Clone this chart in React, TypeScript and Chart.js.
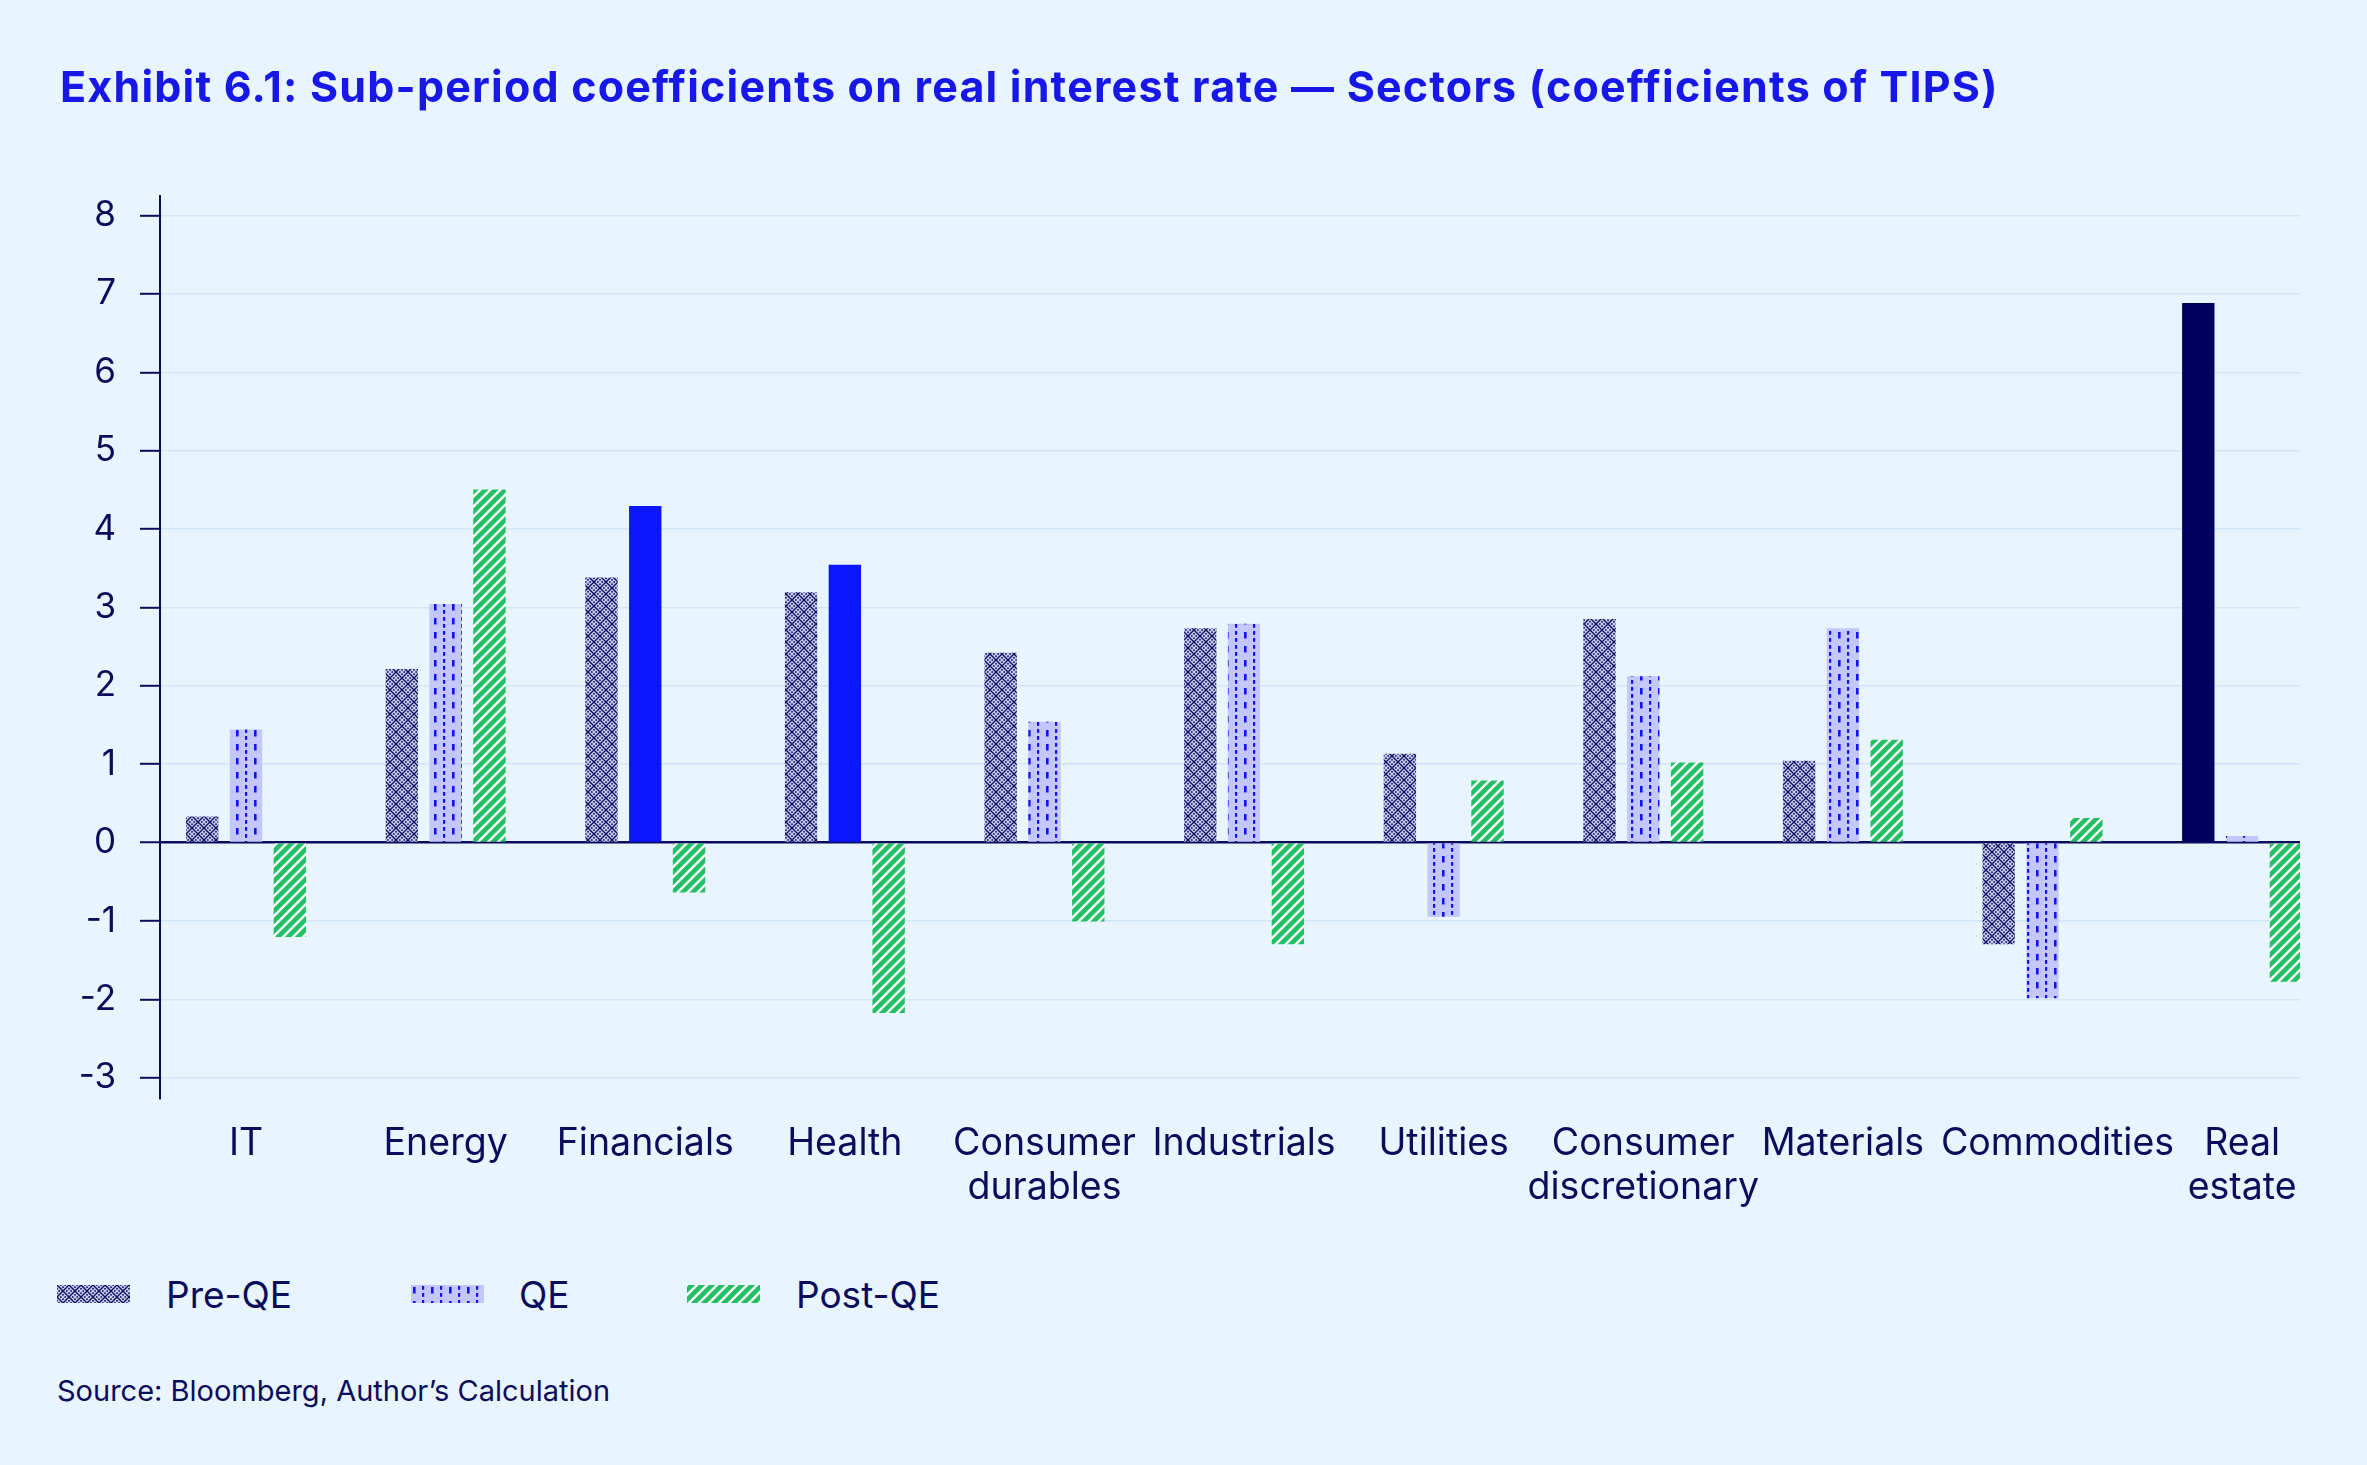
import React, { useEffect, useRef } from 'react';
import { Chart, registerables } from 'chart.js';

Chart.register(...registerables);

// ---------- data ----------
const categories: string[][] = [
  ['IT'], ['Energy'], ['Financials'], ['Health'], ['Consumer', 'durables'], ['Industrials'],
  ['Utilities'], ['Consumer', 'discretionary'], ['Materials'], ['Commodities'], ['Real', 'estate'],
];
const seriesNames = ['Pre-QE', 'QE', 'Post-QE'];
const preQE = [0.33, 2.21, 3.38, 3.19, 2.42, 2.73, 1.13, 2.85, 1.04, -1.29, 6.88];
const qe = [1.44, 3.04, 4.29, 3.54, 1.54, 2.79, -0.94, 2.12, 2.73, -1.98, 0.08];
const postQE = [-1.2, 4.5, -0.63, -2.17, -1.0, -1.29, 0.79, 1.02, 1.31, 0.31, -1.77];
// bars drawn in solid colour (highlighted)
const solidPre = [10];
const solidQE = [2, 3];
const solidPost: number[] = [];
const yTicks = [-3, -2, -1, 0, 1, 2, 3, 4, 5, 6, 7, 8];
const titleText = 'Exhibit 6.1: Sub-period coefficients on real interest rate \u2014 Sectors (coefficients of TIPS)';
const sourceText = 'Source: Bloomberg, Author\u2019s Calculation';

// ---------- styles ----------
const BG = '#e8f4fe';
const NAVY = '#0c0c5c';
const TITLE_BLUE = '#1717e8';
const GRID = '#d2e5f8';
const SOLID_BLUE = '#0b16ff';
const SOLID_NAVY = '#00005e';
const GREEN = '#22bf64';
const FONT = 'Inter, "Noto Sans", sans-serif';

function makeTile(w: number, h: number, draw: (g: CanvasRenderingContext2D, w: number, h: number) => void) {
  const c = document.createElement('canvas');
  c.width = w;
  c.height = h;
  const g = c.getContext('2d')!;
  draw(g, w, h);
  return c;
}

function drawPre(g: CanvasRenderingContext2D, w: number, h: number) {
  g.fillStyle = '#c6cae6';
  g.fillRect(0, 0, w, h);
  g.strokeStyle = '#0f0f66';
  g.lineWidth = 1.4;
  g.beginPath();
  g.moveTo(0, 0); g.lineTo(w, h);
  g.moveTo(w, 0); g.lineTo(0, h);
  g.stroke();
  g.fillStyle = '#0f0f66';
  const centers = [[w / 2, 0], [w / 2, h], [0, h / 2], [w, h / 2]];
  for (const [cx, cy] of centers) {
    for (const [dx, dy] of [[-2.2, 0], [2.2, 0], [0, -2.2], [0, 2.2]]) {
      g.fillRect(cx + dx - 0.8, cy + dy - 0.8, 1.6, 1.6);
    }
  }
}

function drawQE(g: CanvasRenderingContext2D, w: number, h: number) {
  g.fillStyle = '#c4c7fb';
  g.fillRect(0, 0, w, h);
  g.fillStyle = '#1212f5';
  g.fillRect(2, 2, 2.6, 6.5);
  g.fillRect(11, 1, 2.2, 3.8);
  g.fillRect(11, 8, 2.2, 3.8);
}

function drawPost(g: CanvasRenderingContext2D, w: number, h: number) {
  g.fillStyle = GREEN;
  g.fillRect(0, 0, w, h);
  g.strokeStyle = '#ffffff';
  g.lineWidth = 2.4;
  g.beginPath();
  for (let k = -1; k <= 1; k++) {
    g.moveTo(k * w - 1, h + 1);
    g.lineTo(k * w + w + 1, -1);
  }
  g.stroke();
}

const xMin = -0.431;
const xMax = 10.29;
// small label nudges (in category units) to keep neighbouring labels apart
const labelNudge = (i: number) => (i === 9 ? 0.075 : 0);

export default function App() {
  const canvasRef = useRef<HTMLCanvasElement | null>(null);
  const sw1 = useRef<HTMLCanvasElement | null>(null);
  const sw2 = useRef<HTMLCanvasElement | null>(null);
  const sw3 = useRef<HTMLCanvasElement | null>(null);

  useEffect(() => {
    const canvas = canvasRef.current;
    if (!canvas) return;
    const ctx = canvas.getContext('2d')!;
    const preTile = makeTile(12, 12, drawPre);
    const qeTile = makeTile(18, 14, drawQE);
    const postTile = makeTile(10, 10, drawPost);
    const prePat = ctx.createPattern(preTile, 'repeat')!;
    const qePat = ctx.createPattern(qeTile, 'repeat')!;
    const postPat = ctx.createPattern(postTile, 'repeat')!;

    // legend swatches
    const swatches: [HTMLCanvasElement | null, HTMLCanvasElement][] = [
      [sw1.current, preTile], [sw2.current, qeTile], [sw3.current, postTile],
    ];
    for (const [c, tile] of swatches) {
      if (!c) continue;
      const g = c.getContext('2d')!;
      g.clearRect(0, 0, c.width, c.height);
      g.fillStyle = g.createPattern(tile, 'repeat')!;
      g.fillRect(0, 0, c.width, c.height);
    }

    const toPoints = (arr: number[]) => arr.map((v, i) => ({ x: i, y: v }));
    const colors = (arr: number[], solid: number[], pat: CanvasPattern, solidColor: string) =>
      arr.map((_, i) => (solid.includes(i) ? solidColor : pat));

    const chart = new Chart(canvas, {
      type: 'bar',
      data: {
        datasets: [
          { label: seriesNames[0], data: toPoints(preQE), backgroundColor: colors(preQE, solidPre, prePat, SOLID_NAVY) as any, borderWidth: 0 },
          { label: seriesNames[1], data: toPoints(qe), backgroundColor: colors(qe, solidQE, qePat, SOLID_BLUE) as any, borderWidth: 0 },
          { label: seriesNames[2], data: toPoints(postQE), backgroundColor: colors(postQE, solidPost, postPat, GREEN) as any, borderWidth: 0 },
        ],
      },
      options: {
        responsive: false,
        animation: false,
        layout: { padding: { top: 196, right: 67, left: 0, bottom: 0 } },
        datasets: { bar: { barThickness: 43.8, maxBarThickness: 31.7 } },
        plugins: {
          legend: { display: false },
          title: { display: false },
          tooltip: { enabled: false },
        },
        scales: {
          x: {
            type: 'linear',
            min: xMin,
            max: xMax,
            offset: false,
            grid: { display: false, drawTicks: false, offset: false },
            border: { display: false },
            afterBuildTicks: (s: any) => {
              s.ticks = categories.map((_, i) => ({ value: i + labelNudge(i) }));
            },
            afterFit: (s: any) => {
              s.height = 141;
            },
            ticks: {
              autoSkip: false,
              maxRotation: 0,
              minRotation: 0,
              padding: 22,
              color: NAVY,
              font: { family: FONT, size: 37.5, lineHeight: 1.19 },
              callback: (v: any) => categories[Math.round(v)] ?? '',
            },
          },
          y: {
            min: -3.27,
            max: 8.25,
            afterBuildTicks: (s: any) => {
              s.ticks = yTicks.map((v) => ({ value: v }));
            },
            afterFit: (s: any) => {
              s.width = 160;
            },
            grid: {
              color: (c: any) => (c.tick && c.tick.value === 0 ? NAVY : GRID),
              lineWidth: (c: any) => (c.tick && c.tick.value === 0 ? 2.5 : 1.6),
              tickColor: NAVY,
              tickLength: 20,
              tickWidth: 2,
            },
            border: { color: NAVY, width: 2 },
            ticks: {
              padding: 24,
              color: NAVY,
              font: { family: FONT, size: 35 },
              callback: (v: any) => String(v),
            },
          },
        },
      },
    });
    return () => chart.destroy();
  }, []);

  const legendItems = [
    { ref: sw1, name: seriesNames[0], sx: 57, tx: 166 },
    { ref: sw2, name: seriesNames[1], sx: 411, tx: 519 },
    { ref: sw3, name: seriesNames[2], sx: 687, tx: 796 },
  ];

  return (
    <div style={{ position: 'fixed', left: 0, top: 0, width: 2367, height: 1465, background: BG, overflow: 'hidden', fontFamily: FONT }}>
      <canvas ref={canvasRef} width={2367} height={1240} style={{ position: 'absolute', left: 0, top: 0, width: 2367, height: 1240 }} />
      <div style={{ position: 'absolute', left: 60, top: 64.5, fontSize: 43, letterSpacing: 1.2, lineHeight: 1, fontWeight: 700, color: TITLE_BLUE, whiteSpace: 'nowrap' }}>
        {titleText}
      </div>
      {legendItems.map((it) => (
        <React.Fragment key={it.name}>
          <canvas ref={it.ref} width={73} height={18} style={{ position: 'absolute', left: it.sx, top: 1285, width: 73, height: 18 }} />
          <div style={{ position: 'absolute', left: it.tx, top: 1275.5, fontSize: 37, lineHeight: 1, color: NAVY, whiteSpace: 'nowrap' }}>{it.name}</div>
        </React.Fragment>
      ))}
      <div style={{ position: 'absolute', left: 57, top: 1375.5, fontSize: 29, lineHeight: 1, color: NAVY, whiteSpace: 'nowrap' }}>
        {sourceText}
      </div>
    </div>
  );
}
